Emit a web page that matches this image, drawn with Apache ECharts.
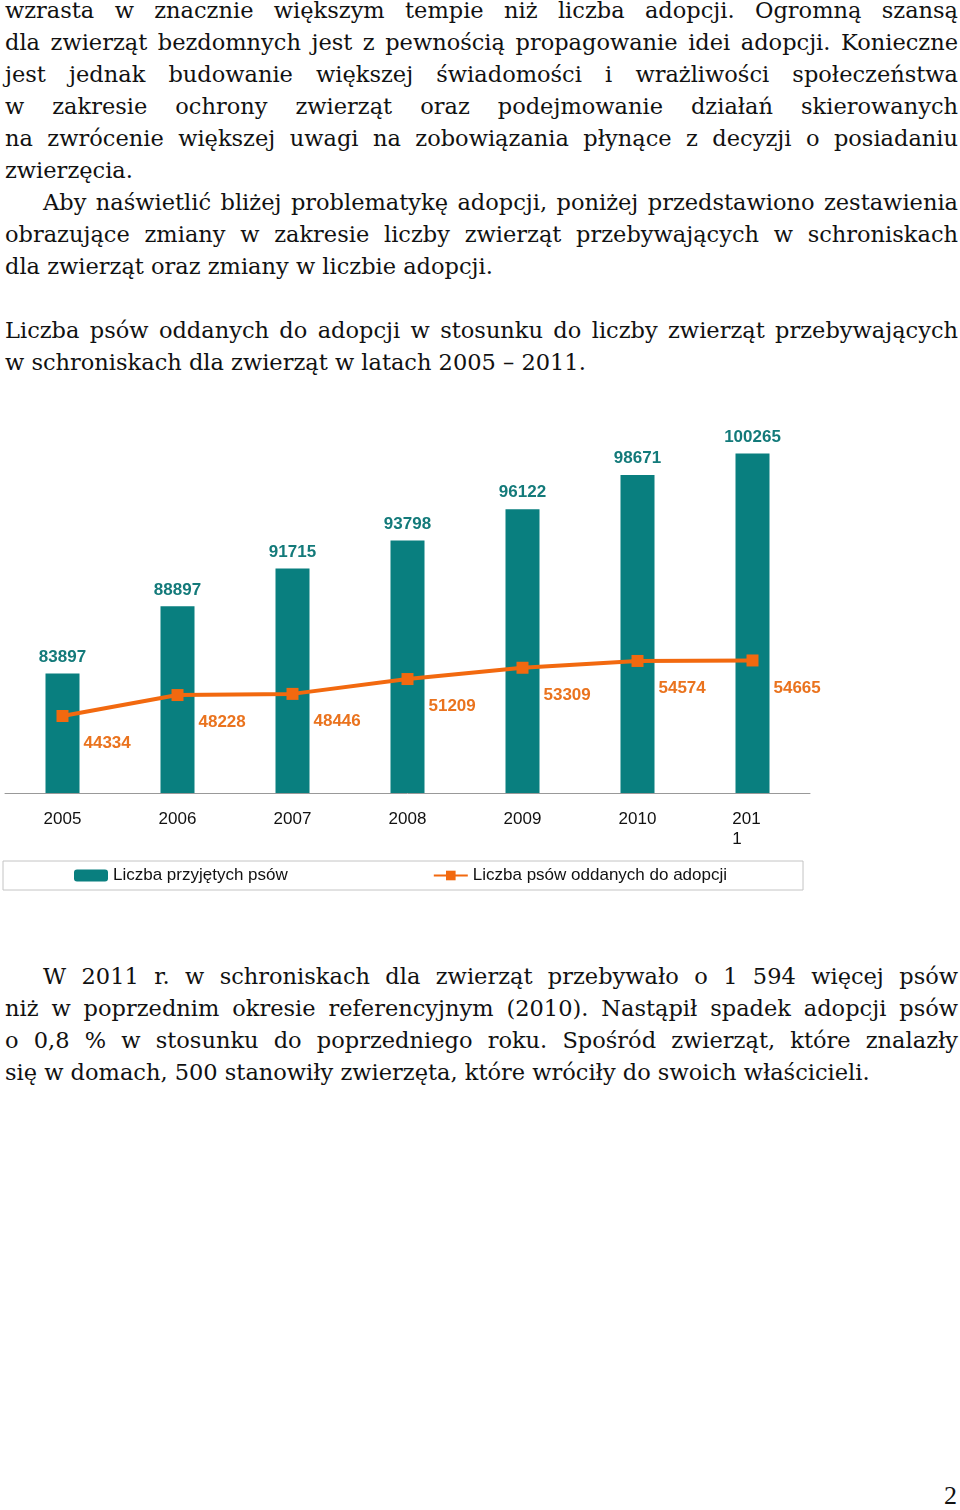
<!DOCTYPE html>
<html>
<head>
<meta charset="utf-8">
<script src="https://cdn.jsdelivr.net/npm/echarts@6/dist/echarts.min.js"></script>
<style>
  html, body { margin: 0; padding: 0; background: #fff; }
  body { width: 960px; height: 1510px; position: relative; overflow: hidden; }
  .txt { position: absolute; left: 5px; width: 953px; font-family: "DejaVu Serif", serif; font-size: 22.5px; line-height: 32px; color: #111; }
  .ln { white-space: nowrap; text-align: justify; text-align-last: justify; }
  .ln.last { text-align-last: left; }
  .ind { text-indent: 38px; }
  #chart { position: absolute; left: 0; top: 380px; width: 960px; height: 530px; }
  #page { position: absolute; right: 3px; top: 1480px; font-family: "Liberation Serif", serif; font-size: 26px; line-height: 32px; color: #111; }
</style>
</head>
<body>
<div class="txt" style="top:-6px">
  <div class="ln">wzrasta w znacznie większym tempie niż liczba adopcji. Ogromną szansą</div>
  <div class="ln">dla zwierząt bezdomnych jest z pewnością propagowanie idei adopcji. Konieczne</div>
  <div class="ln">jest jednak budowanie większej świadomości i wrażliwości społeczeństwa</div>
  <div class="ln">w zakresie ochrony zwierząt oraz podejmowanie działań skierowanych</div>
  <div class="ln">na zwrócenie większej uwagi na zobowiązania płynące z decyzji o posiadaniu</div>
  <div class="ln last">zwierzęcia.</div>
  <div class="ln ind">Aby naświetlić bliżej problematykę adopcji, poniżej przedstawiono zestawienia</div>
  <div class="ln">obrazujące zmiany w zakresie liczby zwierząt przebywających w schroniskach</div>
  <div class="ln last">dla zwierząt oraz zmiany w liczbie adopcji.</div>
  <div class="ln last">&nbsp;</div>
  <div class="ln">Liczba psów oddanych do adopcji w stosunku do liczby zwierząt przebywających</div>
  <div class="ln last">w schroniskach dla zwierząt w latach 2005 – 2011.</div>
</div>
<div id="chart"></div>
<div class="txt" style="top:960px">
  <div class="ln ind">W 2011 r. w schroniskach dla zwierząt przebywało o 1 594 więcej psów</div>
  <div class="ln">niż w poprzednim okresie referencyjnym (2010). Nastąpił spadek adopcji psów</div>
  <div class="ln">o 0,8 % w stosunku do poprzedniego roku. Spośród zwierząt, które znalazły</div>
  <div class="ln last">się w domach, 500 stanowiły zwierzęta, które wróciły do swoich właścicieli.</div>
</div>
<div id="page">2</div>
<script>
// fit lines that are too wide
document.querySelectorAll('.ln').forEach(function (el) {
  var ls = 0;
  while (el.scrollWidth > el.clientWidth + 0.5 && ls > -3) {
    ls -= 0.05;
    el.style.letterSpacing = ls + 'px';
  }
});

var years = ['2005', '2006', '2007', '2008', '2009', '2010', '2011'];
var przyjete = [83897, 88897, 91715, 93798, 96122, 98671, 100265];
var adopcje = [44334, 48228, 48446, 51209, 53309, 54574, 54665];

var TEAL = '#097f7f';
var ORANGE = '#f2690f';
var FONT = '"Liberation Sans", Arial, sans-serif';

var chart = echarts.init(document.getElementById('chart'), null, { renderer: 'canvas' });
chart.setOption({
  animation: false,
  grid: { left: 5, right: 150, top: 10, bottom: 117 },
  legend: {
    left: 3, top: 481,
    padding: [6, 76, 6, 71],
    itemGap: 145,
    itemWidth: 34, itemHeight: 12,
    borderColor: '#c4c4c4', borderWidth: 1,
    textStyle: { fontFamily: FONT, fontSize: 17, color: '#111' },
    data: ['Liczba przyjętych psów', 'Liczba psów oddanych do adopcji']
  },
  xAxis: [{
    type: 'category', data: years,
    axisLine: { lineStyle: { color: '#999', width: 1 } },
    axisTick: { length: 5, lineStyle: { color: '#999' } },
    axisLabel: {
      margin: 16, fontFamily: FONT, fontSize: 17, color: '#111', lineHeight: 20,
      formatter: function (v) { return v === '2011' ? '{l|201}\n{l|1}' : v; },
      rich: {
        l: { align: 'left', padding: [0, 12, 0, 0], fontFamily: FONT, fontSize: 17, color: '#111', lineHeight: 20 }
      }
    }
  }, {
    type: 'category', data: years, position: 'bottom',
    axisLine: { show: false },
    axisTick: { inside: true, length: 5, lineStyle: { color: '#999' } },
    axisLabel: { show: false }
  }],
  yAxis: [
    { type: 'value', min: 75000, max: 105000, show: false, splitLine: { show: false } },
    { type: 'value', min: 30000, max: 105000, show: false, splitLine: { show: false } }
  ],
  series: [{
    name: 'Liczba przyjętych psów',
    type: 'bar', data: przyjete, barWidth: 34, yAxisIndex: 0,
    itemStyle: { color: TEAL },
    label: {
      show: true, position: 'top', distance: 8,
      fontFamily: FONT, fontSize: 17, fontWeight: 'bold', color: '#137a7a'
    }
  }, {
    name: 'Liczba psów oddanych do adopcji',
    type: 'line', data: adopcje, yAxisIndex: 1,
    lineStyle: { color: ORANGE, width: 4 },
    itemStyle: { color: ORANGE },
    symbol: 'rect', symbolSize: 12,
    label: {
      show: true, position: [27, 25],
      fontFamily: FONT, fontSize: 17, fontWeight: 'bold', color: '#ea731e'
    }
  }]
});
</script>
</body>
</html>
